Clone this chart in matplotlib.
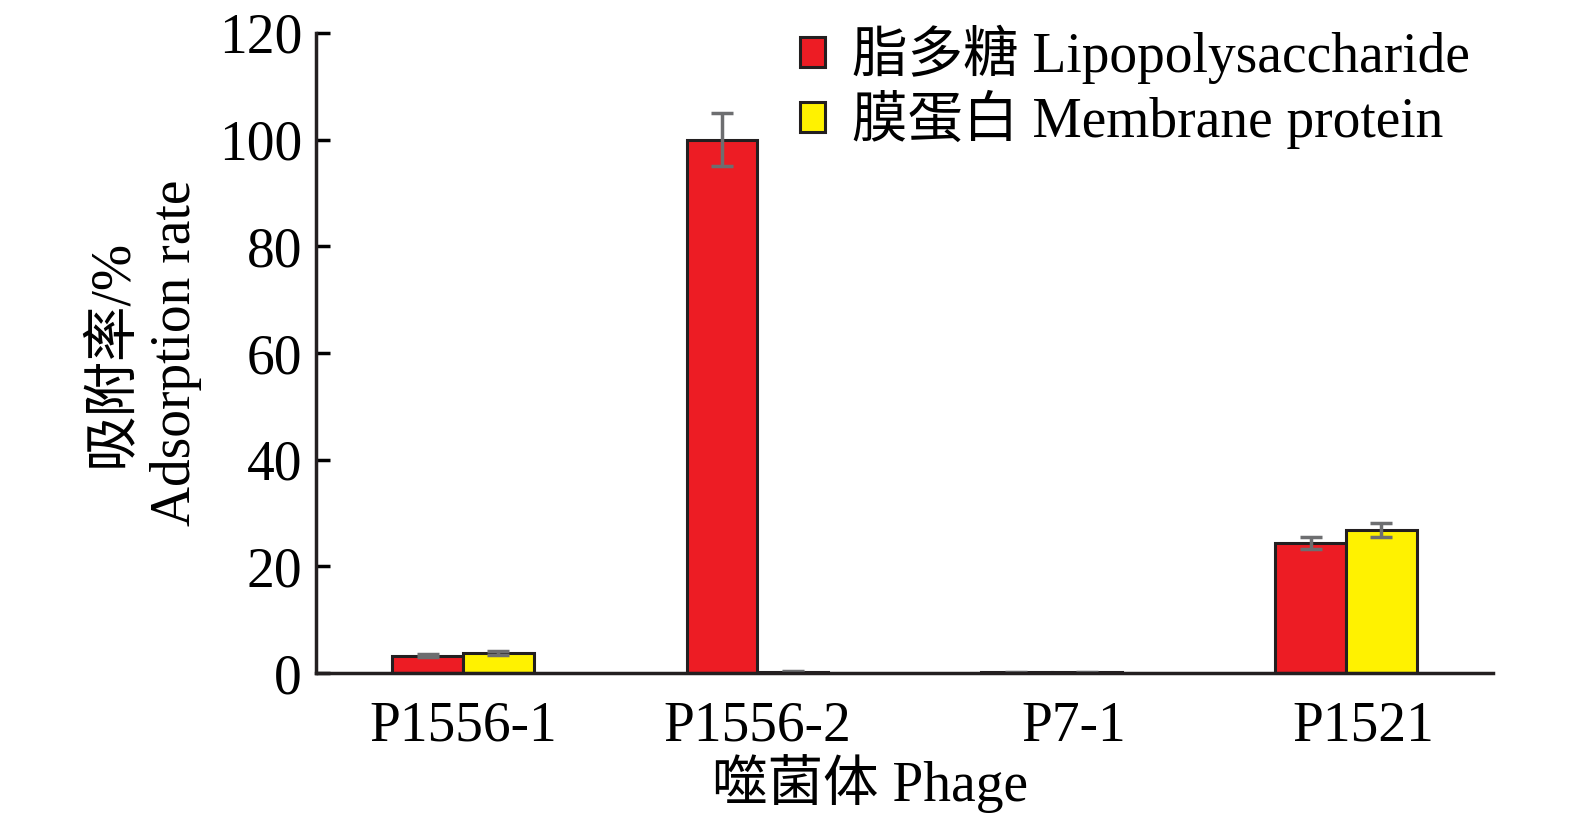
import numpy as np
from matplotlib import pyplot as plt
from matplotlib import transforms

plt.rcParams['font.family'] = ['Liberation Serif', 'Noto Sans CJK SC']

phages = ['P1556-1', 'P1556-2', 'P7-1', 'P1521']
lps = [3.3, 100.0, 0.2, 24.4]
lps_err = [0.3, 5.0, 0.1, 1.2]
mem = [3.8, 0.3, 0.2, 26.9]
mem_err = [0.3, 0.1, 0.1, 1.3]

RED = '#ed1c24'
YELLOW = '#fff200'
EDGE = '#231f20'
ERR = '#6d6e70'

def main():
	fig, ax = plt.subplots(figsize=(15.75, 8.23), dpi=100)
	fig.subplots_adjust(left=0.2006, right=0.948, top=0.96, bottom=0.182)

	x = np.arange(len(phages))
	w = 0.24
	ekw = dict(ecolor=ERR, elinewidth=2.5, capthick=2.5)
	ax.bar(x - w / 2, lps, w, yerr=lps_err, capsize=8, color=RED, edgecolor=EDGE,
		linewidth=2.2, error_kw=ekw, label='脂多糖 Lipopolysaccharide')
	ax.bar(x + w / 2, mem, w, yerr=mem_err, capsize=8, color=YELLOW, edgecolor=EDGE,
		linewidth=2.2, error_kw=ekw, label='膜蛋白 Membrane protein')

	ax.set_xlim(-0.5, 3.5)
	ax.set_ylim(0, 120)
	ax.set_yticks(np.arange(0, 121, 20))
	ax.set_xticks(x)
	ax.set_xticklabels(phages)
	ax.tick_params(axis='y', direction='in', length=10, width=2.5, labelsize=40, pad=10)
	ax.tick_params(axis='x', length=0, labelsize=40, pad=20)
	# the original labels for the last two groups sit a little to the right
	shifts = [0, 0, 22, 17]
	for lab, dx in zip(ax.get_xticklabels(), shifts):
		lab.set_transform(lab.get_transform() + transforms.ScaledTranslation(dx / 100, 0, fig.dpi_scale_trans))
	for s in ['top', 'right']:
		ax.spines[s].set_visible(False)
	for s in ['left', 'bottom']:
		ax.spines[s].set_linewidth(2.5)
		ax.spines[s].set_color(EDGE)

	ax.set_xlabel('噬菌体 Phage', fontsize=40)
	ax.xaxis.set_label_coords(0.471, -0.127)
	ax.set_ylabel('吸附率/%\nAdsorption rate', fontsize=40, labelpad=12, linespacing=1.3)

	ax.legend(loc='upper right', bbox_to_anchor=(1.009, 1.065), fontsize=40, frameon=False,
		handlelength=0.45, handleheight=0.45, handletextpad=0.5, labelspacing=0.1,
		borderaxespad=0.2)

	plt.savefig('out.png', dpi=100)


if __name__ == '__main__':
	main()
